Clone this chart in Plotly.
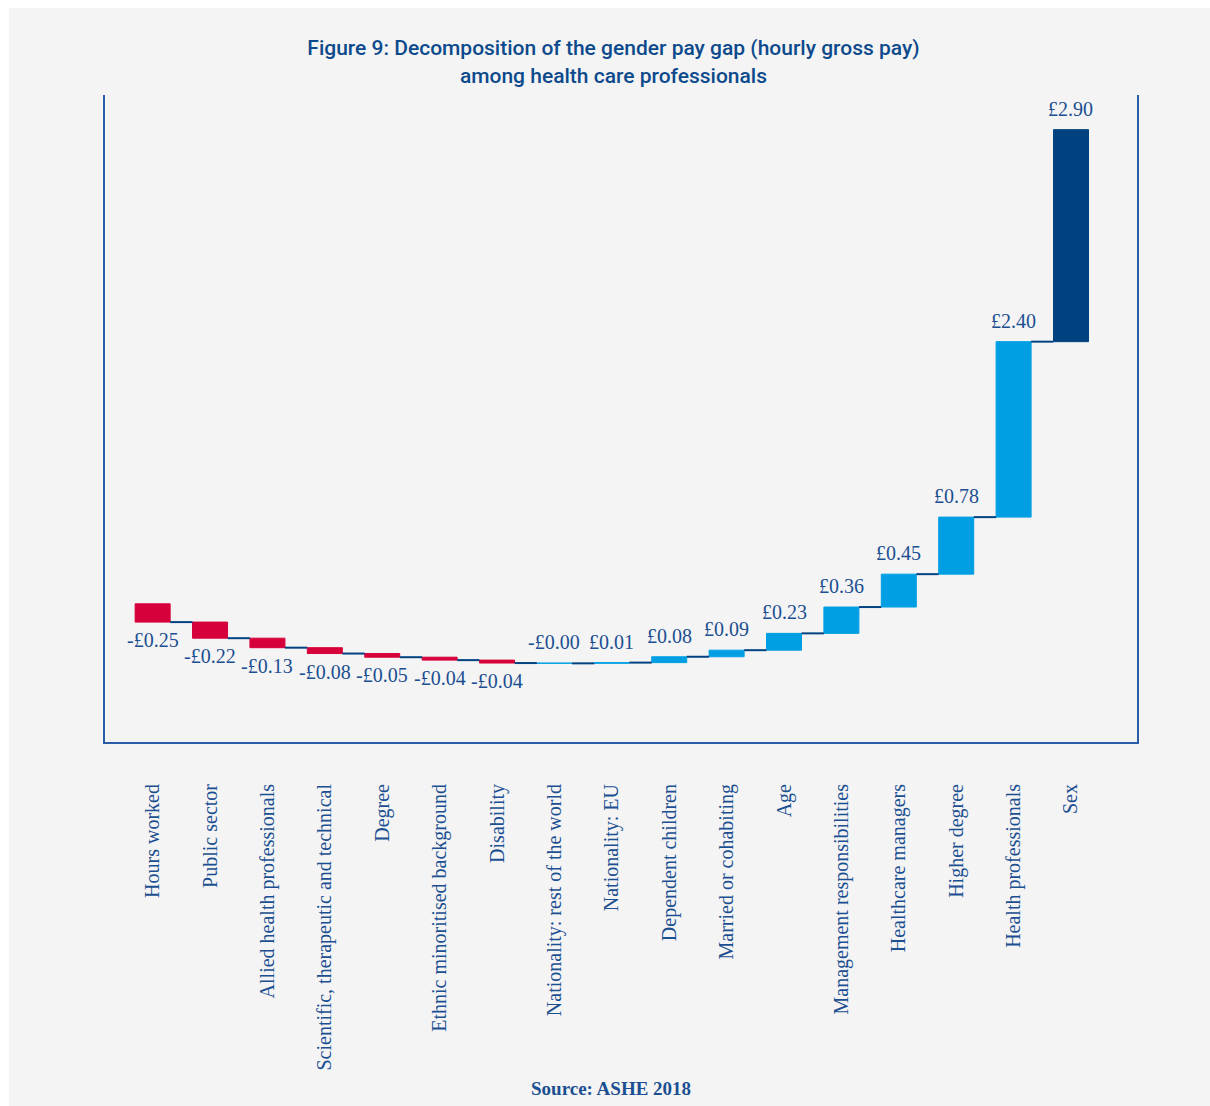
import plotly.graph_objects as go

# Contributions to the hourly gender pay gap (£), in display order
categories = [
    "Hours worked", "Public sector", "Allied health professionals",
    "Scientific, therapeutic and technical", "Degree",
    "Ethnic minoritised background", "Disability",
    "Nationality: rest of the world", "Nationality: EU", "Dependent children",
    "Married or cohabiting", "Age", "Management responsibilities",
    "Healthcare managers", "Higher degree", "Health professionals", "Sex",
]
contributions = [
    -0.25, -0.22, -0.13, -0.08, -0.05, -0.04, -0.04,
    -0.004, 0.01, 0.08, 0.09, 0.23, 0.36, 0.45, 0.78, 2.40, 2.90,
]
highlight = "Sex"

RED = "#d6003b"
BLUE = "#009fe3"
NAVY = "#00427f"
TEXT = "#1b4f91"
AXIS = "#2a5ca8"
BAR_W = 0.61

# Running totals: each bar starts where the previous one ended
starts, ends = [], []
running = 0.0
for v in contributions:
    starts.append(running)
    running += v
    ends.append(running)

colors = []
for c, v in zip(categories, contributions):
    if c == highlight:
        colors.append(NAVY)
    elif round(v, 2) < 0:
        colors.append(RED)
    else:
        colors.append(BLUE)

def fmt(v):
    r = round(v, 2)
    sign = "-" if (r < 0 or (v < 0 and r == 0)) else ""
    return f"{sign}£{abs(r):.2f}"

idx = list(range(len(categories)))

fig = go.Figure()

fig.add_trace(go.Bar(
    x=idx, y=contributions, base=starts, width=BAR_W,
    marker=dict(color=colors, line=dict(color=colors, width=1)),
    hoverinfo="skip", showlegend=False,
))

# Step connectors between consecutive bars
cx, cy = [], []
for i in range(len(categories) - 1):
    cx += [i + BAR_W / 2, i + 1 - BAR_W / 2, None]
    cy += [ends[i], ends[i], None]
fig.add_trace(go.Scatter(
    x=cx, y=cy, mode="lines", line=dict(color=NAVY, width=2),
    hoverinfo="skip", showlegend=False,
))

# Value labels: above rising bars, below falling ones
label_font = dict(family="Liberation Serif", size=20, color=TEXT)
annotations = []
for i, v in enumerate(contributions):
    if round(v, 2) < 0:
        y, anchor, shift = min(starts[i], ends[i]), "top", -5
    else:
        y, anchor, shift = max(starts[i], ends[i]), "bottom", 8
    annotations.append(dict(
        x=i, y=y, xref="x", yref="y", text=fmt(v), showarrow=False,
        xanchor="center", yanchor=anchor, yshift=shift, font=label_font,
    ))

annotations.append(dict(
    text="<b>Source: ASHE 2018</b>", xref="paper", yref="paper",
    x=0.490, y=-0.536, xanchor="center", yanchor="middle", showarrow=False,
    font=dict(family="Liberation Serif", size=19, color=TEXT),
))

fig.update_layout(
    width=1210, height=1106,
    margin=dict(l=105, r=73, t=95, b=364),
    paper_bgcolor="white", plot_bgcolor="rgba(0,0,0,0)",
    title=dict(
        text="Figure 9: Decomposition of the gender pay gap (hourly gross pay)<br>among health care professionals",
        x=0.507, xanchor="center", y=0.950, yanchor="top",
        font=dict(family="Roboto", size=21, color="#0d4a8c", weight=500),
    ),
    xaxis=dict(
        range=[-0.83, 17.15], tickmode="array", tickvals=idx, ticktext=categories,
        tickangle=-90, ticks="outside", ticklen=32, tickcolor="rgba(0,0,0,0)",
        tickfont=dict(family="Liberation Serif", size=20, color=TEXT),
        showline=True, linecolor=AXIS, linewidth=2, showgrid=False, zeroline=False,
    ),
    yaxis=dict(
        range=[-1.89, 6.96], showticklabels=False, ticks="",
        showline=True, mirror=True, linecolor=AXIS, linewidth=2,
        showgrid=False, zeroline=False,
    ),
    shapes=[dict(
        type="rect", xref="paper", yref="paper", layer="below",
        x0=-0.093, x1=1.2, y0=-0.7, y1=1.1345,
        fillcolor="#f4f4f4", line=dict(width=0),
    )],
    annotations=annotations,
)

fig.write_html("out.html")
